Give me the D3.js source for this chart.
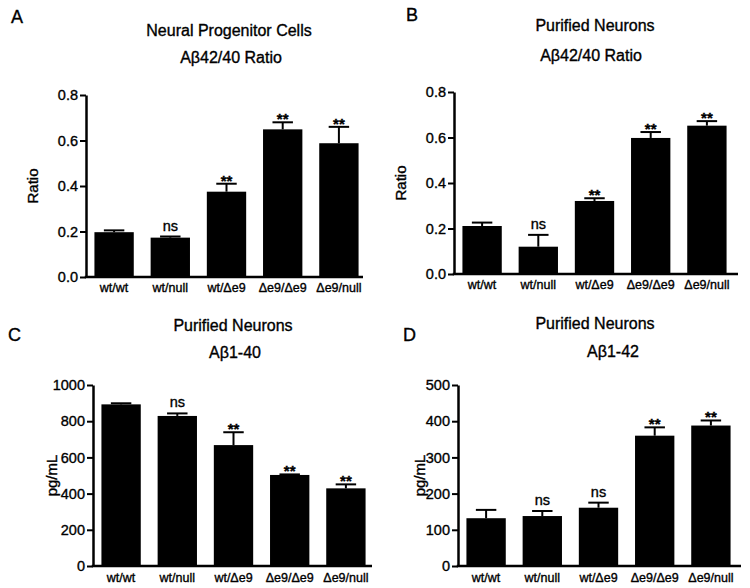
<!DOCTYPE html>
<html>
<head>
<meta charset="utf-8">
<script src="https://cdn.jsdelivr.net/npm/d3@7"></script>
<style>
  html, body { margin: 0; padding: 0; background: #fff; }
  svg { display: block; font-family: "Liberation Sans", Arial, Helvetica, sans-serif; }
  svg text { fill: #000; stroke: #000; stroke-width: 0.35px; }
</style>
</head>
<body>
<svg id="chart" width="750" height="588"></svg>
<script>
// ---- Data ----
const categories = ["wt/wt", "wt/null", "wt/Δe9", "Δe9/Δe9", "Δe9/null"];

const ratioNPC      = [0.197, 0.173, 0.375, 0.649, 0.588];
const ratioNPCErr   = [0.008, 0.005, 0.035, 0.031, 0.072];
const ratioNPCSig   = ["", "ns", "**", "**", "**"];

const ratioPN       = [0.211, 0.120, 0.321, 0.598, 0.652];
const ratioPNErr    = [0.015, 0.052, 0.012, 0.026, 0.020];
const ratioPNSig    = ["", "ns", "**", "**", "**"];

const ab40PN        = [893, 829, 668, 503, 429];
const ab40PNErr     = [6, 14, 71, 3, 22];
const ab40PNSig     = ["", "ns", "**", "**", "**"];

const ab42PN        = [132, 138, 161, 360, 388];
const ab42PNErr     = [23, 14, 14, 23, 14];
const ab42PNSig     = ["", "ns", "ns", "**", "**"];

const ratioTicks = [0.0, 0.2, 0.4, 0.6, 0.8];
const ab40Ticks  = [0, 200, 400, 600, 800, 1000];
const ab42Ticks  = [0, 100, 200, 300, 400, 500];

const panels = [
  { letter: "A", title1: "Neural Progenitor Cells", title2: "Aβ42/40 Ratio", ylabel: "Ratio",
    values: ratioNPC, errs: ratioNPCErr, sig: ratioNPCSig, ticks: ratioTicks, fmt: d3.format(".1f") },
  { letter: "B", title1: "Purified Neurons", title2: "Aβ42/40 Ratio", ylabel: "Ratio",
    values: ratioPN, errs: ratioPNErr, sig: ratioPNSig, ticks: ratioTicks, fmt: d3.format(".1f") },
  { letter: "C", title1: "Purified Neurons", title2: "Aβ1-40", ylabel: "pg/mL",
    values: ab40PN, errs: ab40PNErr, sig: ab40PNSig, ticks: ab40Ticks, fmt: d3.format("d") },
  { letter: "D", title1: "Purified Neurons", title2: "Aβ1-42", ylabel: "pg/mL",
    values: ab42PN, errs: ab42PNErr, sig: ab42PNSig, ticks: ab42Ticks, fmt: d3.format("d") }
];

// ---- Layout (positions kept separate from data) ----
const layout = [
  { left: 86,  top: 95,  bottom: 277, width: 277, letterX: 11,  letterY: 23,  t1x: 229, t1y: 36,  t2x: 231, t2y: 63,  ylx: 32,  xly: 292 },
  { left: 454, top: 92,  bottom: 274, width: 284, letterX: 406, letterY: 21,  t1x: 595, t1y: 31,  t2x: 591, t2y: 61,  ylx: 400, xly: 289 },
  { left: 93,  top: 385, bottom: 566, width: 279, letterX: 8,   letterY: 341, t1x: 233, t1y: 331, t2x: 235, t2y: 358, ylx: 51,  xly: 582 },
  { left: 458, top: 385, bottom: 566, width: 283, letterX: 403, letterY: 341, t1x: 595, t1y: 329, t2x: 613, t2y: 357, ylx: 419, xly: 582 }
];

const svg = d3.select("#chart");

panels.forEach((p, i) => {
  const L = layout[i];
  const g = svg.append("g");

  const x = d3.scaleBand()
    .domain(categories)
    .range([L.left, L.left + 281])
    .paddingInner(0.3)
    .paddingOuter(0.15);

  const y = d3.scaleLinear()
    .domain([p.ticks[0], p.ticks[p.ticks.length - 1]])
    .range([L.bottom, L.top]);

  // bars
  g.selectAll("rect.bar")
    .data(categories)
    .join("rect")
    .attr("class", "bar")
    .attr("x", d => x(d))
    .attr("width", x.bandwidth())
    .attr("y", (d, j) => y(p.values[j]))
    .attr("height", (d, j) => y(0) - y(p.values[j]))
    .attr("fill", "#000");

  // error bars (upper only)
  const capW = x.bandwidth() * 0.52;
  categories.forEach((c, j) => {
    const cx = x(c) + x.bandwidth() / 2;
    const yt = y(p.values[j] + p.errs[j]);
    g.append("line")
      .attr("x1", cx).attr("x2", cx)
      .attr("y1", y(p.values[j])).attr("y2", yt)
      .attr("stroke", "#000").attr("stroke-width", 2);
    g.append("line")
      .attr("x1", cx - capW / 2).attr("x2", cx + capW / 2)
      .attr("y1", yt).attr("y2", yt)
      .attr("stroke", "#000").attr("stroke-width", 2);
    const s = p.sig[j];
    if (s) {
      g.append("text")
        .attr("x", cx)
        .attr("y", s === "ns" ? yt - 6 : yt + 2)
        .attr("text-anchor", "middle")
        .attr("font-size", s === "ns" ? 14.5 : 15)
        .attr("font-weight", s === "ns" ? "normal" : "bold")
        .text(s);
    }
  });

  // y axis
  const yAxis = d3.axisLeft(y)
    .tickValues(p.ticks)
    .tickFormat(p.fmt)
    .tickSize(6)
    .tickPadding(2)
    .tickSizeOuter(0);
  const ya = g.append("g")
    .attr("transform", `translate(${L.left},0)`)
    .call(yAxis);
  ya.select(".domain").attr("stroke", "#000").attr("stroke-width", 2.5);
  ya.selectAll(".tick line").attr("stroke", "#000").attr("stroke-width", 2);
  ya.selectAll(".tick text")
    .attr("font-size", 14.5)
    .style("font-family", "'Liberation Sans', Arial, sans-serif");

  // x axis line
  g.append("line")
    .attr("x1", L.left - 1.25).attr("x2", L.left + L.width)
    .attr("y1", L.bottom).attr("y2", L.bottom)
    .attr("stroke", "#000").attr("stroke-width", 2.5);

  // x tick labels
  g.selectAll("text.xl")
    .data(categories)
    .join("text")
    .attr("class", "xl")
    .attr("x", d => x(d) + x.bandwidth() / 2)
    .attr("y", L.xly)
    .attr("text-anchor", "middle")
    .attr("font-size", 12.5)
    .text(d => d);

  // y label
  g.append("text")
    .attr("transform", `translate(${L.ylx},${(L.top + L.bottom) / 2}) rotate(-90)`)
    .attr("text-anchor", "middle")
    .attr("dominant-baseline", "central")
    .attr("font-size", 15)
    .text(p.ylabel);

  // titles
  g.append("text")
    .attr("x", L.t1x).attr("y", L.t1y)
    .attr("text-anchor", "middle")
    .attr("font-size", 16)
    .text(p.title1);
  g.append("text")
    .attr("x", L.t2x).attr("y", L.t2y)
    .attr("text-anchor", "middle")
    .attr("font-size", 16)
    .text(p.title2);

  // panel letter
  g.append("text")
    .attr("x", L.letterX).attr("y", L.letterY)
    .attr("font-size", 18)
    .text(p.letter);
});
</script>
</body>
</html>
